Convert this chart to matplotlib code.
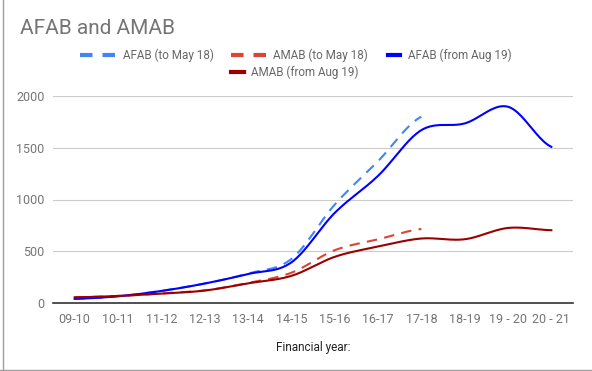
import numpy as np
import matplotlib
matplotlib.use('Agg')
import matplotlib.pyplot as plt
from matplotlib.lines import Line2D

plt.rcParams['font.family'] = ['Roboto', 'DejaVu Sans']

years = ['09-10', '10-11', '11-12', '12-13', '13-14', '14-15', '15-16',
         '16-17', '17-18', '18-19', '19 - 20', '20 - 21']
afab_to_may18 = [40, 65, 118, 188, 285, 425, 950, 1370, 1800]
amab_to_may18 = [55, 68, 92, 122, 194, 292, 510, 615, 715]
afab_from_aug19 = [40, 65, 116, 188, 280, 392, 870, 1228, 1670, 1735, 1896, 1509]
amab_from_aug19 = [55, 68, 91, 120, 190, 262, 446, 545, 623, 616, 725, 703]
yticks = [0, 500, 1000, 1500, 2000]

W, H = 592, 371


def smooth(y, n=24):
    y = np.asarray(y, float)
    x = np.arange(len(y), dtype=float)
    m = np.empty_like(y)
    m[1:-1] = (y[2:] - y[:-2]) / 2
    m[0] = (y[1] - y[0]) * 0.5
    m[-1] = (y[-1] - y[-2]) * 0.5
    xs, ys = [], []
    for i in range(len(y) - 1):
        t = np.linspace(0, 1, n, endpoint=(i == len(y) - 2))
        h00 = 2 * t**3 - 3 * t**2 + 1
        h10 = t**3 - 2 * t**2 + t
        h01 = -2 * t**3 + 3 * t**2
        h11 = t**3 - t**2
        ys.append(h00 * y[i] + h10 * m[i] + h01 * y[i + 1] + h11 * m[i + 1])
        xs.append(x[i] + t)
    return np.concatenate(xs), np.concatenate(ys)


fig = plt.figure(figsize=(W / 100, H / 100), dpi=100)
ax = fig.add_axes([53 / W, 1 - 303 / H, 520 / W, 207 / H])

c_afab_old = '#4285F4'
c_amab_old = '#DB4437'
c_afab_new = '#0000FF'
c_amab_new = '#990000'

x, y = smooth(afab_to_may18)
ax.plot(x, y, color=c_afab_old, lw=1.5, dashes=(5, 3.5), zorder=3, clip_on=False)
x, y = smooth(amab_to_may18)
ax.plot(x, y, color=c_amab_old, lw=1.5, dashes=(5, 3.5), zorder=3, clip_on=False)
x, y = smooth(afab_from_aug19)
ax.plot(x, y, color=c_afab_new, lw=1.5, zorder=4, clip_on=False)
x, y = smooth(amab_from_aug19)
ax.plot(x, y, color=c_amab_new, lw=1.5, zorder=4, clip_on=False)

ax.set_xlim(-0.5, len(years) - 0.5)
ax.set_ylim(0, 2000)
ax.set_xticks(range(len(years)))
ax.set_xticklabels(years)
ax.set_yticks(yticks)
ax.tick_params(length=0, labelsize=9, labelcolor='#757575')
ax.tick_params(axis='x', pad=7)
ax.tick_params(axis='y', pad=6)
ax.grid(axis='y', color='#cccccc', lw=0.8)
ax.set_axisbelow(True)
for s in ['top', 'right', 'left']:
    ax.spines[s].set_visible(False)
ax.spines['bottom'].set_color('#333333')
ax.spines['bottom'].set_linewidth(1.2)
ax.spines['bottom'].set_zorder(5)

fig.text(313 / W, 1 - 347 / H, 'Financial year:', ha='center', va='center',
         fontsize=8.5, color='#222222')
fig.text(20 / W, 1 - 28 / H, 'AFAB and AMAB', ha='left', va='center',
         fontsize=15, color='#757575')


def legend_item(x0, x1, yy, color, dashed, label, tx):
    yf = 1 - yy / H
    if dashed:
        fig.add_artist(Line2D([x0 / W, x1 / W], [yf, yf], color=color, lw=3,
                              dashes=(3, 2.4)))
    else:
        fig.add_artist(Line2D([x0 / W, x1 / W], [yf, yf], color=color, lw=3))
    fig.text(tx / W, yf, label, ha='left', va='center', fontsize=8.4, color='#666666')


legend_item(80, 115, 55, c_afab_old, True, 'AFAB (to May 18)', 123)
legend_item(231, 267, 55, c_amab_old, True, 'AMAB (to May 18)', 273)
legend_item(388, 400, 55, c_afab_new, False, 'AFAB (from Aug 19)', 408)
legend_item(231, 244, 72, c_amab_new, False, 'AMAB (from Aug 19)', 251)

# outer frame (left and bottom)
fig.add_artist(Line2D([2.5 / W, 2.5 / W], [0, 1], color='#9e9e9e', lw=1))
fig.add_artist(Line2D([0, 1], [1.5 / H, 1.5 / H], color='#9e9e9e', lw=1))

fig.savefig('out.png', dpi=100)
